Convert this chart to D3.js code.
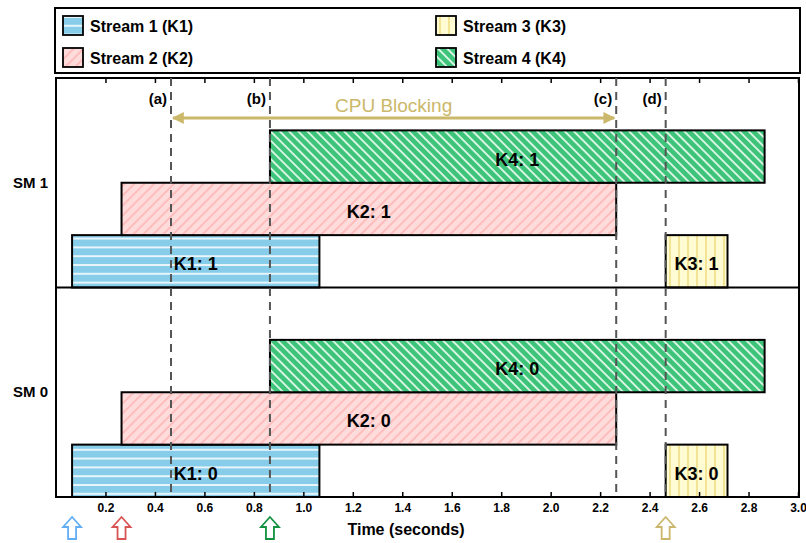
<!DOCTYPE html>
<html>
<head>
<meta charset="utf-8">
<script src="https://cdn.jsdelivr.net/npm/d3@7"></script>
<style>
  body { margin: 0; background: #fff; }
  text { font-family: "Liberation Sans", Arial, sans-serif; }
</style>
</head>
<body>
<div id="chart"></div>
<script>
// kernels per stream
let kernels = ["K1", "K2", "K3", "K4"];
let streamNames = ["Stream 1 (K1)", "Stream 2 (K2)", "Stream 3 (K3)", "Stream 4 (K4)"];
let kernelStart = [0.065, 0.265, 2.465, 0.865];
let kernelEnd = [1.065, 2.265, 2.715, 2.865];
let sms = ["SM 1", "SM 0"];
let smIds = [1, 0];

// vertical markers
let markerNames = ["(a)", "(b)", "(c)", "(d)"];
let markerTimes = [0.465, 0.865, 2.265, 2.465];

// launch arrows under the axis
let launchTimes = [0.065, 0.265, 0.865, 2.465];
let launchColors = ["#62aef4", "#d85454", "#139040", "#cbb66c"];

let xTicks = [0.2, 0.4, 0.6, 0.8, 1.0, 1.2, 1.4, 1.6, 1.8, 2.0, 2.2, 2.4, 2.6, 2.8, 3.0];

let conf = {
    width: 806, height: 543,
    left: 56, right: 799, top: 78, bottom: 497
};

let svg = d3.select("#chart")
    .append("svg")
    .attr("width", conf.width)
    .attr("height", conf.height);

// patterns
let defs = svg.append("defs");
let p1 = defs.append("pattern").attr("id", "pat-K1")
    .attr("patternUnits", "userSpaceOnUse").attr("width", 9).attr("height", 8.8);
p1.append("rect").attr("width", 9).attr("height", 8.8).attr("fill", "#87cdea");
p1.append("line").attr("x1", 0).attr("x2", 9).attr("y1", 1).attr("y2", 1)
    .attr("stroke", "#fff").attr("stroke-width", 1.6);

let p2 = defs.append("pattern").attr("id", "pat-K2")
    .attr("patternUnits", "userSpaceOnUse").attr("width", 7).attr("height", 7)
    .attr("patternTransform", "rotate(45)");
p2.append("rect").attr("width", 7).attr("height", 7).attr("fill", "#ffdcdc");
p2.append("line").attr("x1", 1).attr("x2", 1).attr("y1", 0).attr("y2", 7)
    .attr("stroke", "#ffb4b4").attr("stroke-width", 1.6);

let p3 = defs.append("pattern").attr("id", "pat-K3")
    .attr("patternUnits", "userSpaceOnUse").attr("width", 9).attr("height", 9);
p3.append("rect").attr("width", 9).attr("height", 9).attr("fill", "#fffbd2");
p3.append("line").attr("x1", 4).attr("x2", 4).attr("y1", 0).attr("y2", 9)
    .attr("stroke", "#f1df86").attr("stroke-width", 1.6);

let p4 = defs.append("pattern").attr("id", "pat-K4")
    .attr("patternUnits", "userSpaceOnUse").attr("width", 6.5).attr("height", 6.5)
    .attr("patternTransform", "rotate(-45)");
p4.append("rect").attr("width", 6.5).attr("height", 6.5).attr("fill", "#3ec47a");
p4.append("line").attr("x1", 1).attr("x2", 1).attr("y1", 0).attr("y2", 6.5)
    .attr("stroke", "#e2f8ea").attr("stroke-width", 1.8);

// scales
let x = d3.scaleLinear().domain([0, 3]).range([conf.left, 798]);
let ySm = d3.scaleBand().domain(sms).range([conf.top, conf.bottom]);
let yRow = d3.scaleBand().domain(["none", "K4", "K2", "K1"]).range([0, ySm.bandwidth()]);
let rowOf = k => (k === "K3" ? "K1" : k);

// legend
svg.append("rect")
    .attr("x", 55).attr("y", 8).attr("width", 745).attr("height", 65)
    .attr("fill", "#fff").attr("stroke", "#000").attr("stroke-width", 2);
let legendPos = [[63, 16], [63, 48], [436, 16], [436, 48]];
let leg = svg.append("g").selectAll("g")
    .data(kernels)
    .join("g")
    .attr("transform", (d, i) => `translate(${legendPos[i][0]},${legendPos[i][1]})`);
leg.append("rect")
    .attr("width", 20).attr("height", 19)
    .attr("fill", d => `url(#pat-${d})`)
    .attr("stroke", "#000").attr("stroke-width", 1.8);
leg.append("text")
    .attr("x", 27).attr("y", 15.5)
    .attr("font-size", 16).attr("font-weight", "bold")
    .text((d, i) => streamNames[i]);

// bars
let bars = [];
smIds.forEach((s, j) => {
    kernels.forEach((k, i) => {
        bars.push({ sm: sms[j], id: s, k: k, x0: kernelStart[i], x1: kernelEnd[i] });
    });
});

let barG = svg.append("g");
barG.selectAll("rect")
    .data(bars)
    .join("rect")
    .attr("x", d => x(d.x0))
    .attr("y", d => ySm(d.sm) + yRow(rowOf(d.k)))
    .attr("width", d => x(d.x1) - x(d.x0))
    .attr("height", yRow.bandwidth())
    .attr("fill", d => `url(#pat-${d.k})`)
    .attr("stroke", "#000").attr("stroke-width", 2);

// frame
svg.append("rect")
    .attr("x", conf.left).attr("y", conf.top)
    .attr("width", conf.right - conf.left).attr("height", conf.bottom - conf.top)
    .attr("fill", "none").attr("stroke", "#000").attr("stroke-width", 2);
svg.append("line")
    .attr("x1", conf.left).attr("x2", conf.right)
    .attr("y1", ySm("SM 0")).attr("y2", ySm("SM 0"))
    .attr("stroke", "#000").attr("stroke-width", 2);

// dashed markers
let mk = svg.append("g");
mk.selectAll("line")
    .data(markerTimes)
    .join("line")
    .attr("x1", d => x(d)).attr("x2", d => x(d))
    .attr("y1", conf.top).attr("y2", conf.bottom)
    .attr("stroke", "#555").attr("stroke-width", 2)
    .attr("stroke-dasharray", "8,6");
mk.selectAll("text")
    .data(markerTimes)
    .join("text")
    .attr("x", d => x(d) - 4).attr("y", 104)
    .attr("text-anchor", "end")
    .attr("font-size", 15).attr("font-weight", "bold")
    .text((d, i) => markerNames[i]);

// bar labels
barG.selectAll("text")
    .data(bars)
    .join("text")
    .attr("x", d => (x(d.x0) + x(d.x1)) / 2)
    .attr("y", d => ySm(d.sm) + yRow(rowOf(d.k)) + yRow.bandwidth() / 2 + 9)
    .attr("text-anchor", "middle")
    .attr("font-size", 18).attr("font-weight", "bold")
    .text(d => `${d.k}: ${d.id}`);

// CPU blocking arrow
let khaki = "#cbb86a";
defs.append("marker").attr("id", "head")
    .attr("viewBox", "0 0 10 10").attr("refX", 9).attr("refY", 5)
    .attr("markerWidth", 4).attr("markerHeight", 4)
    .attr("orient", "auto-start-reverse")
    .append("path").attr("d", "M0,0 L10,5 L0,10 Z").attr("fill", khaki);
svg.append("line")
    .attr("x1", x(markerTimes[0]) + 2).attr("x2", x(markerTimes[2]) - 2)
    .attr("y1", 118).attr("y2", 118)
    .attr("stroke", khaki).attr("stroke-width", 3)
    .attr("marker-start", "url(#head)").attr("marker-end", "url(#head)");
svg.append("text")
    .attr("x", (x(markerTimes[0]) + x(markerTimes[2])) / 2).attr("y", 112)
    .attr("text-anchor", "middle")
    .attr("font-size", 19).attr("fill", khaki)
    .text("CPU Blocking");

// axes
let fmt = d3.format(".1f");
svg.append("g")
    .attr("transform", `translate(0,${conf.bottom})`)
    .call(d3.axisBottom(x).tickValues(xTicks).tickFormat(fmt)
        .tickSizeInner(-5).tickSizeOuter(0).tickPadding(6))
    .call(g => g.select(".domain").remove())
    .call(g => g.selectAll("line").attr("stroke-width", 1.5))
    .call(g => g.selectAll("text").attr("font-size", 12).attr("font-weight", "bold")
        .attr("font-family", "Liberation Sans, Arial, sans-serif"));
svg.append("g")
    .attr("transform", `translate(0,${conf.top})`)
    .call(d3.axisTop(x).tickValues(xTicks).tickFormat("")
        .tickSizeInner(-5).tickSizeOuter(0))
    .call(g => g.select(".domain").remove())
    .call(g => g.selectAll("line").attr("stroke-width", 1.5));

svg.append("g")
    .attr("transform", `translate(${conf.left},0)`)
    .call(d3.axisLeft(ySm).tickSize(0).tickPadding(8))
    .call(g => g.select(".domain").remove())
    .call(g => g.selectAll("text").attr("font-size", 15).attr("font-weight", "bold")
        .attr("font-family", "Liberation Sans, Arial, sans-serif"));

svg.append("text")
    .attr("x", 406).attr("y", 535)
    .attr("text-anchor", "middle")
    .attr("font-size", 16).attr("font-weight", "bold")
    .text("Time (seconds)");

// launch arrows
svg.append("g").selectAll("path")
    .data(launchTimes)
    .join("path")
    .attr("d", d => {
        let c = x(d);
        return `M${c},517 L${c + 9},527 L${c + 4},527 L${c + 4},539 L${c - 4},539 L${c - 4},527 L${c - 9},527 Z`;
    })
    .attr("fill", "#fff")
    .attr("stroke", (d, i) => launchColors[i])
    .attr("stroke-width", 1.8)
    .attr("stroke-linejoin", "miter");
</script>
</body>
</html>
